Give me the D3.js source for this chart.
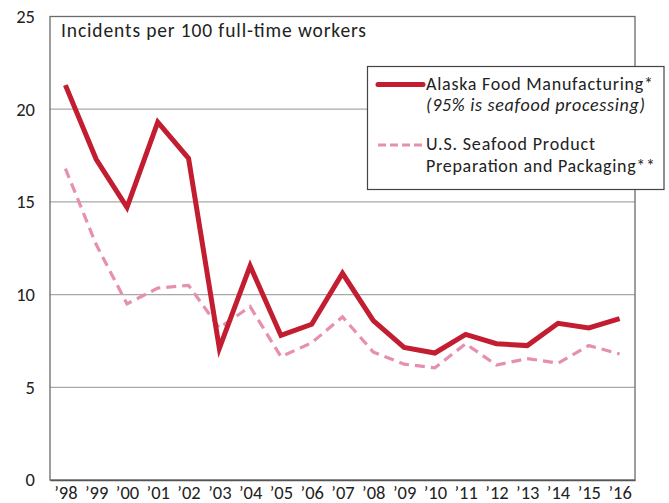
<!DOCTYPE html>
<html>
<head>
<meta charset="utf-8">
<script src="https://cdn.jsdelivr.net/npm/d3@7"></script>
<style>
  html, body { margin: 0; padding: 0; background: #fff; }
  text { font-family: Carlito, Calibri, Lato, "Noto Sans", sans-serif; fill: #222; }
</style>
</head>
<body>
<svg id="chart" width="669" height="503"></svg>
<script>
const years = ["\u201998","\u201999","\u201900","\u201901","\u201902","\u201903","\u201904","\u201905","\u201906","\u201907","\u201908","\u201909","\u201910","\u201911","\u201912","\u201913","\u201914","\u201915","\u201916"];
const alaskaFood = [21.3, 17.3, 14.7, 19.3, 17.35, 7.1, 11.55, 7.8, 8.4, 11.15, 8.6, 7.15, 6.85, 7.85, 7.35, 7.25, 8.45, 8.2, 8.7];
const usSeafood = [16.8, 12.7, 9.5, 10.35, 10.5, 8.2, 9.35, 6.65, 7.4, 8.8, 6.9, 6.25, 6.05, 7.35, 6.2, 6.55, 6.3, 7.25, 6.8];
const yTicks = [0, 5, 10, 15, 20, 25];
const yTitle = "Incidents per 100 full-time workers";
const legendAlaska = ["Alaska Food Manufacturing*", "(95% is seafood processing)"];
const legendUS = ["U.S. Seafood Product", "Preparation and Packaging**"];

const svg = d3.select("#chart");
const m = {left: 50, right: 635, top: 16.5, bottom: 480};

const x = d3.scalePoint().domain(years).range([m.left, m.right]).padding(0.5);
const y = d3.scaleLinear().domain([0, 25]).range([m.bottom, m.top]);

// gridlines
svg.append("g").selectAll("line").data(yTicks.filter(d => d > 0 && d < 25)).join("line")
  .attr("x1", m.left).attr("x2", m.right)
  .attr("y1", d => y(d)).attr("y2", d => y(d))
  .attr("stroke", "#a8a8a8").attr("stroke-width", 1.2);

// frame
svg.append("rect").attr("x", m.left).attr("y", m.top)
  .attr("width", m.right - m.left).attr("height", m.bottom - m.top)
  .attr("fill", "none").attr("stroke", "#6b6b6b").attr("stroke-width", 1.3);

// y axis labels
const yAxis = d3.axisLeft(y).tickValues(yTicks).tickSize(0).tickPadding(15).tickFormat(d3.format("d"));
const gy = svg.append("g").attr("transform", `translate(${m.left},0)`).call(yAxis);
gy.select(".domain").remove();
gy.selectAll("text").attr("font-size", 18.5).attr("fill", "#222")
  .style("font-family", "Carlito, Calibri, Lato, 'Noto Sans', sans-serif");

// x axis labels
const xAxis = d3.axisBottom(x).tickSize(0).tickPadding(6);
const gx = svg.append("g").attr("transform", `translate(0,${m.bottom})`).call(xAxis);
gx.select(".domain").attr("stroke", "#555").attr("stroke-width", 1.5);
gx.selectAll("text").attr("font-size", 18.5).attr("fill", "#222")
  .style("font-family", "Carlito, Calibri, Lato, 'Noto Sans', sans-serif");

// title
svg.append("text").attr("x", 61).attr("y", 37).attr("font-size", 19.5)
  .attr("textLength", 305).attr("lengthAdjust", "spacing").text(yTitle);

// lines
const line = d3.line().x((d, i) => x(years[i])).y(d => y(d));
svg.append("path").datum(usSeafood).attr("d", line)
  .attr("fill", "none").attr("stroke", "#e68fb1").attr("stroke-width", 3.2)
  .attr("stroke-dasharray", "10,6").attr("stroke-linejoin", "miter");
svg.append("path").datum(alaskaFood).attr("d", line)
  .attr("fill", "none").attr("stroke", "#c21d30").attr("stroke-width", 5)
  .attr("stroke-linejoin", "miter");

// legend
const lg = svg.append("g");
lg.append("rect").attr("x", 367.5).attr("y", 66.5).attr("width", 296.5).attr("height", 123)
  .attr("fill", "#fff").attr("stroke", "#444").attr("stroke-width", 1.2);
lg.append("line").attr("x1", 378).attr("x2", 423).attr("y1", 84.5).attr("y2", 84.5)
  .attr("stroke", "#c21d30").attr("stroke-width", 5).attr("stroke-linecap", "round");
lg.append("line").attr("x1", 378).attr("x2", 423).attr("y1", 145).attr("y2", 145)
  .attr("stroke", "#e68fb1").attr("stroke-width", 3).attr("stroke-dasharray", "8,4");
const legTexts = [
  {t: legendAlaska[0], y: 89.5, w: 227, it: false},
  {t: legendAlaska[1], y: 110.5, w: 219, it: true},
  {t: legendUS[0], y: 150, w: 169, it: false},
  {t: legendUS[1], y: 172, w: 229, it: false}
];
lg.selectAll("text.leg").data(legTexts).join("text").attr("class", "leg")
  .attr("x", 426).attr("y", d => d.y).attr("font-size", 18)
  .attr("font-style", d => d.it ? "italic" : "normal")
  .attr("textLength", d => d.w).attr("lengthAdjust", "spacing")
  .text(d => d.t);
</script>
</body>
</html>
